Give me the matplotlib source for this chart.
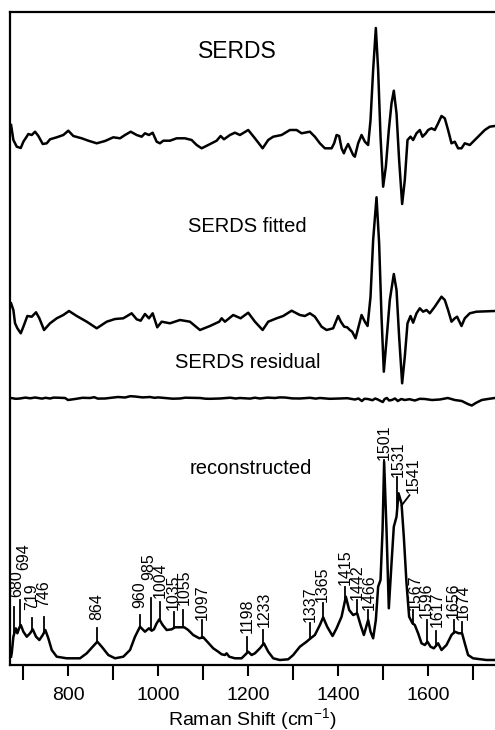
import matplotlib

matplotlib.use("Agg")
import matplotlib.pyplot as plt
import numpy as np

plt.rcParams["font.family"] = ["Liberation Sans", "DejaVu Sans"]
plt.rcParams["mathtext.default"] = "regular"

# SERDS difference spectrum (Raman shift, a.u.)
serds_wn = [673.4, 678.5, 686, 694.9, 700.7, 711.8, 719.3, 726.6, 734, 743.7, 752.6, 759.9,
            774.8, 789.4, 800.5, 811.6, 830.3, 844.9, 863.6, 882, 900.4, 915.3, 926.4, 939,
            952.3, 963.4, 970.7, 979.6, 987.8, 996.7, 1004, 1011.4, 1026.2, 1041.1, 1059.5,
            1074.4, 1085.5, 1096.6, 1111.2, 1129.9, 1138.7, 1146.1, 1159.4, 1170.5, 1181.6,
            1200, 1214.9, 1232, 1244.4, 1255.5, 1274.1, 1292.5, 1307.4, 1318.5, 1336.9, 1348,
            1359.1, 1370.2, 1385.1, 1390.8, 1396.2, 1401.9, 1407.3, 1412.4, 1416.8, 1421.9,
            1427.9, 1433, 1436.8, 1444.1, 1451.7, 1459, 1466.3, 1471.6, 1477.4, 1483.4,
            1488.5, 1493.8, 1499.6, 1505.6, 1512.2, 1518.2, 1523.3, 1529.3, 1535.1, 1541.8,
            1547.7, 1553.7, 1560.4, 1566.2, 1573.7, 1581, 1587, 1594.4, 1599.5, 1607, 1614.3,
            1621.7, 1629.2, 1636.5, 1643.8, 1651.4, 1658.7, 1666, 1673.6, 1680.9, 1692,
            1703.1, 1714.2, 1725.3, 1736.4, 1747.5]
serds_y = [13, -2, -8.7, -10, -3.7, 4, 3, 6.3, 2, -6, -5.3, -1.3,
           0.7, 3, 7.3, 2, -0.3, -2.7, -5.3, -3, 0.7, -0.3, 3, 6.3,
           3, 1.3, 4.7, 3, 5.3, -3.7, -5.3, -2.7, -2.7, -0.3, -0.3,
           -2, -7, -10.3, -7, -2.7, 2, -1.3, 3, 5.3, 3,
           8, -0.3, -10.3, -2, 1.3, 3, 8, 8, 4.7, 6.3, 1.3,
           -5.3, -10.3, -10.3, -5.3, 3, 2, -10.3, -15.3, -10.3, -6,
           -12, -17, -18.7, -5.3, 3, -3.7, -7, 18, 68, 110,
           68, 1.3, -48.7, -28.7, 8, 34.7, 47.3, 24.7, -22, -66,
           -42, -2, 1.3, -2, 4.7, 8, 1.3, 4.7, 8, 9.7, 8,
           14.7, 22, 19.7, 8, -5.3, -3.7, -10.3, -10.3, -5.3, -7,
           -2, 3, 8, 11.3, 12]

# SERDS fitted spectrum
fitted_wn = [673.4, 678.5, 682.2, 687.4, 694.9, 700.7, 709.5, 719.3, 728.8, 736.2, 746.6,
             759.9, 774.8, 789.4, 802.1, 819.2, 841.4, 863.6, 885.7, 904.2, 922.6, 941.2,
             952.3, 961.2, 970.7, 979.6, 987.8, 998, 1007.8, 1026.2, 1048.4, 1070.6, 1092.8,
             1115, 1135.6, 1141, 1148.3, 1166.7, 1183.1, 1200, 1214.9, 1232, 1244.4, 1263,
             1277.7, 1296.3, 1314.7, 1325.8, 1336.9, 1348, 1362.9, 1374, 1388.6, 1399.7,
             1405.7, 1413.1, 1419.7, 1425.7, 1430.8, 1438.3, 1444.1, 1451.7, 1459, 1465,
             1471.6, 1477.4, 1484.9, 1490.7, 1496, 1501.1, 1507.1, 1514.4, 1523.3, 1529.3,
             1535.1, 1541.8, 1547.7, 1553.7, 1560.4, 1566.2, 1573.7, 1581, 1588.4, 1595.9,
             1603.2, 1614.3, 1629.2, 1636.5, 1643.8, 1651.4, 1658.7, 1663.8, 1673.6, 1680.9,
             1692, 1706.8, 1747.5]
fitted_y = [16.7, 10, -3.3, -8.3, -13.3, -6.7, 4, 3.3, 7.7, 1.7, -10,
            -3.3, 1.7, 5, 9, 4, -1.7, -8.3, -1.7, 1, 1.7, 6.7,
            0.7, -0.7, 6, 1.7, 6.7, -7.3, -1.7, -3.3, 0, -1.7, -10,
            -6, -1.7, 1.7, -1.7, 5, 1.7, 7.3, -1.7, -10, -1.7, 1.7,
            4, 9.3, 5, 4, 6.7, 3.3, -6.7, -10, -8.3, 4,
            -1.7, -6.7, -7.3, -10, -11.7, -18.3, -8.3, 5, -1.7, -6,
            23.3, 80, 122.7, 76.7, 3.3, -51.7, -20, 20, 46, 30,
            -16.7, -63.3, -36.7, -3.3, 4, -2.7, 6.7, 11.7, 8.3, 10,
            6.7, 13.3, 23.3, 20, 10, -1.7, 1.7, 3.3, -6, 1.7,
            6.7, 8.3, 9]

# SERDS residual
resid_wn = [673.4, 684, 693.3, 705, 716, 726.6, 742, 750, 759.9, 768, 777, 793.2, 799.9, 815.4,
            832, 848.7, 858, 866, 882, 897, 910.8, 926.4, 938, 948.6, 965, 981.8, 992, 1000,
            1015.1, 1032, 1048.4, 1060, 1070, 1092.8, 1105, 1115, 1137.2, 1160, 1172, 1181.6,
            1204, 1215, 1226, 1243, 1259.3, 1270, 1281.5, 1298, 1314.7, 1337, 1350, 1359.1,
            1381, 1403.5, 1420, 1436.8, 1445, 1452.3, 1458, 1465.6, 1476, 1482, 1487.8,
            1494, 1498.9, 1503, 1507.8, 1513, 1518.9, 1526, 1532.2, 1540, 1547.7, 1558,
            1569.9, 1581, 1592.1, 1608, 1625.4, 1643.2, 1658.7, 1674.3, 1687.6, 1696.4,
            1705.3, 1718.6, 1732, 1747.5]
resid_y = [0, -0.8, -0.5, 0.4, -0.3, 0.5, -0.6, 0.2, -0.5, 0.4, 0.3, 0, -2, -1,
           0.2, 0, 0.8, -0.6, -0.5, 0.3, 1, 0.5, 1.8, 1.5, 0.6, 1, 0.2, 0.6,
           0, -0.7, -0.5, 0.3, 0.2, 0, -0.7, -0.8, -0.5, 0.3, -0.5, 0,
           -0.6, 0.3, -0.5, 0.4, 0, 0.6, 0.5, -0.4, -0.5, 0.2, -0.6, 0,
           -0.8, -0.5, -0.2, -1.5, -0.5, -3, -0.8, -1, -2.2, -0.5, -1.5,
           -3, -4, -1, 0, -2.5, -2, -0.5, -3, -1, -2, -1.2,
           -2.5, -0.8, -1, -2, -1.5, 0, -2, -3, -6, -7.5,
           -5, -2, -1, 0]

# Reconstructed Raman spectrum
recon_wn = [673.4, 674.9, 678.5, 683.8, 687.4, 691.1, 694.9, 700.7, 708.2, 715.5, 721.5, 728.8,
            736.2, 743.7, 749.5, 756.1, 763.7, 774.8, 797, 826.5, 841.4, 854.7, 864.9, 874.7,
            889.3, 904.2, 922.6, 937.5, 948.6, 959.7, 970.7, 979.6, 985.6, 990.7, 996.7,
            1002.5, 1010, 1018.9, 1030, 1037.3, 1048.4, 1058, 1066.8, 1077.9, 1091.3, 1100.1,
            1109, 1122.3, 1133.4, 1140.9, 1148.3, 1152, 1157.8, 1170.5, 1185.3, 1192.7, 1200,
            1207.5, 1214.9, 1226, 1234.8, 1244.4, 1255.5, 1270.3, 1288.8, 1299.9, 1314.7,
            1329.6, 1338.5, 1348, 1359.1, 1366.4, 1375.3, 1387.3, 1396.2, 1407.3, 1416.8,
            1424.2, 1433, 1441.9, 1449.5, 1456.8, 1466.3, 1471.6, 1477.4, 1483.4, 1488.5,
            1493.8, 1498.3, 1501.8, 1507.1, 1512.2, 1518.2, 1523.3, 1529.3, 1533.8, 1540.4,
            1545.5, 1551.5, 1557.3, 1564.8, 1569.9, 1577.3, 1584.8, 1592.1, 1598.1, 1604.8,
            1612.1, 1621.7, 1629.2, 1640.3, 1651.4, 1658.7, 1667.6, 1674.9, 1680.9, 1688.2,
            1699.3, 1728.9, 1747.5]
recon_y = [8.3, 12, 28.3, 36.7, 31.7, 36.7, 40, 33.3, 28.3, 31.7, 35.7, 28.3,
           25, 30, 35, 26.7, 15, 8.3, 6.7, 6.7, 11.7, 18.3, 23.3, 18.3,
           10, 6.7, 8.3, 15, 28.3, 38.3, 33.3, 36.7, 34.3, 35.7, 41.7,
           45.7, 40, 35, 35.7, 37.7, 37.7, 37.7, 35, 30, 26.7, 27.7,
           23.3, 16.7, 13.3, 10.7, 10, 11.7, 8.3, 6.7, 6.7, 10, 13.3,
           10, 11.7, 16.7, 21.7, 13.3, 6.7, 5, 5.7, 10, 18.3,
           23.3, 26.7, 30, 40, 47.7, 38.3, 29, 36.7, 48.3, 68.3,
           55, 50, 51.7, 40, 30, 45, 33.3, 26.7, 45, 78.3,
           85, 135, 203.3, 135, 56.7, 101.7, 138.3, 148.3, 171.7, 161.7,
           128.3, 81.7, 48.3, 41.7, 40, 31.7, 21.7, 20, 23.3, 18.3,
           16.7, 21.7, 15, 20, 30, 33.3, 31.7, 31.7, 21.7, 10,
           6.7, 5, 5]

peak_labels = [680, 694, 719, 746, 864, 960, 985, 1004, 1035, 1055, 1097, 1198, 1233,
               1337, 1365, 1415, 1442, 1466, 1501, 1531, 1541, 1567, 1596, 1617, 1656, 1674]

# vertical offsets of the stacked traces
serds_offset = 527
fitted_offset = 345
resid_offset = 267

# label layout: top of marker line, bottom of text, horizontal nudge of text (cm-1)
line_top = [58, 65, 47, 48, 37, 50, 67, 63, 53, 55, 45, 28, 35,
            42, 62, 78, 65, 55, 205, 188, None, 55, 45, 34, 45, 43]
text_bottom = [68, 95, 55, 58, 45, 57, 85, 67, 55, 60, 45, 32, 38,
               43, 63, 80, 65, 55, 205, 188, 172, 55, 47, 38, 47, 45]
text_nudge = [6, 7, 0, 0, 0, 0, -5, 0, -1, 4, 0, 0, 2,
              0, 0, 0, 0, 2, 0, 2, 25, 4, 0, 2, 0, 4]

fig = plt.figure(figsize=(4.95, 7.30), dpi=100)
ax = fig.add_axes([10 / 495, 65 / 730, 485 / 495, 653 / 730])

line_kw = dict(color="black", lw=1.8)
ax.plot(serds_wn, np.array(serds_y) + serds_offset, **line_kw)
ax.plot(fitted_wn, np.array(fitted_y) + fitted_offset, **line_kw)
ax.plot(resid_wn, np.array(resid_y) + resid_offset, **line_kw)
ax.plot(recon_wn, recon_y, **line_kw)

for wn, top, bottom, nudge in zip(peak_labels, line_top, text_bottom, text_nudge):
    base = np.interp(wn, recon_wn, recon_y)
    if top is None:
        # leader line for the shoulder label
        ax.plot([wn, wn + 17], [base + 2, base + 12], color="black", lw=1.3)
    elif top > base:
        ax.plot([wn, wn], [base, top], color="black", lw=1.3)
    ax.text(wn + nudge, bottom, str(wn), rotation=90, ha="center", va="bottom",
            fontsize=11.5)

title_kw = dict(ha="center", va="center", fontsize=14.5)
ax.text(1175, 613, "SERDS", ha="center", va="center", fontsize=16.5)
ax.text(1198, 439, "SERDS fitted", **title_kw)
ax.text(1199, 302, "SERDS residual", **title_kw)
ax.text(1205, 197, "reconstructed", **title_kw)

ax.set_xlim(671, 1748)
ax.set_ylim(0, 653)
ax.set_yticks([])
ax.set_xticks([800, 1000, 1200, 1400, 1600])
ax.set_xticks([700, 900, 1100, 1300, 1500, 1700], minor=True)
ax.tick_params(axis="x", which="both", direction="out", width=1.5, labelsize=14, pad=8)
ax.tick_params(axis="x", which="major", length=8)
ax.tick_params(axis="x", which="minor", length=11)
ax.set_xlabel("Raman Shift (cm$^{-1}$)", fontsize=14, labelpad=1)

for side in ("left", "top", "bottom"):
    ax.spines[side].set_linewidth(1.6)
ax.spines["right"].set_visible(False)

fig.savefig("out.png", dpi=100)
